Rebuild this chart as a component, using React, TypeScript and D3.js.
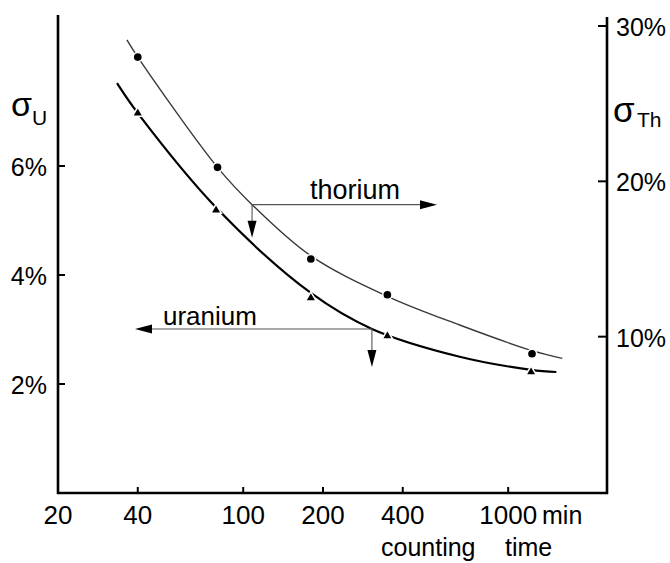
import React from "react";
import * as d3 from "d3";

// ---- data ----
const xTicks = [20, 40, 100, 200, 400, 1000];
const uTicks = [2, 4, 6];
const thTicks = [10, 20, 30];

// measured points (counting time in min, sigma in %)
const thoriumTimes = [40, 80, 180, 350, 1230];
const thoriumValues = [28.0, 20.9, 15.0, 12.7, 8.9];
const uraniumTimes = [40, 79, 180, 350, 1220];
const uraniumValues = [6.97, 5.19, 3.58, 2.88, 2.22];

// drawn (fitted) curves
const thoriumCurveTimes = [36.4, 40, 80, 108, 180, 350, 656, 1230, 1600];
const thoriumCurveValues = [29.1, 28.0, 20.9, 18.5, 15.2, 12.6, 10.75, 9.1, 8.6];
const uraniumCurveTimes = [33.4, 40, 80, 180, 306, 656, 1220, 1520];
const uraniumCurveValues = [7.52, 6.97, 5.21, 3.67, 3.01, 2.5, 2.26, 2.22];

// arrow anchor points
const thoriumArrowTime = 108;
const thoriumArrowValue = 18.5;
const uraniumArrowTime = 306;
const uraniumArrowValue = 3.01;

const W = 670;
const H = 563;
const left = 58;
const right = 607;
const bottom = 493;

const x = d3.scaleLog().domain([20, 2360]).range([left, right]);
const yU = d3.scaleLinear().domain([0, 6]).range([bottom, 166]);
const yTh = d3.scaleLinear().domain([0, 30]).range([492, 26]);

const font = "'Liberation Sans', Arial, sans-serif";

export default function App() {
  const thLine = d3
    .line<number>()
    .x((_, i) => x(thoriumCurveTimes[i]))
    .y((v) => yTh(v))
    .curve(d3.curveCatmullRom.alpha(0.5));
  const uLine = d3
    .line<number>()
    .x((_, i) => x(uraniumCurveTimes[i]))
    .y((v) => yU(v))
    .curve(d3.curveCatmullRom.alpha(0.5));

  const tri = d3.symbol().type(d3.symbolTriangle).size(48)();

  const thx = x(thoriumArrowTime);
  const thy = yTh(thoriumArrowValue);
  const ux = x(uraniumArrowTime);
  const uy = yU(uraniumArrowValue);

  const arrowColor = "#555";

  return (
    <svg
      width={W}
      height={H}
      style={{ position: "absolute", left: 0, top: 0, background: "#fff" }}
      fontFamily={font}
    >
      <rect width={W} height={H} fill="#fff" />
      {/* axes */}
      <line x1={left} y1={15} x2={left} y2={bottom + 1} stroke="#000" strokeWidth={2.6} />
      <line x1={left - 1} y1={bottom} x2={right + 1} y2={bottom} stroke="#000" strokeWidth={2.6} />
      <line x1={right} y1={17} x2={right} y2={bottom + 1} stroke="#000" strokeWidth={2.6} />

      {/* bottom ticks */}
      {xTicks.slice(1).map((t) => (
        <line key={t} x1={x(t)} x2={x(t)} y1={bottom} y2={bottom - 6} stroke="#000" strokeWidth={2} />
      ))}
      {xTicks.map((t) => (
        <text key={t} x={x(t)} y={524} fontSize={26} textAnchor="middle">
          {String(t)}
        </text>
      ))}
      <text x={542} y={524} fontSize={25}>
        {"min"}
      </text>
      <text x={381} y={556} fontSize={25}>
        {"counting"}
      </text>
      <text x={505} y={556} fontSize={25}>
        {"time"}
      </text>

      {/* left ticks */}
      {uTicks.map((v) => (
        <g key={v}>
          <line x1={left} x2={left + 7} y1={yU(v)} y2={yU(v)} stroke="#000" strokeWidth={2} />
          <text x={47} y={yU(v) + 10} fontSize={25} textAnchor="end">
            {`${v}%`}
          </text>
        </g>
      ))}
      {/* right ticks */}
      {thTicks.map((v) => (
        <g key={v}>
          <line x1={right - 9} x2={right} y1={yTh(v)} y2={yTh(v)} stroke="#000" strokeWidth={2} />
          <text x={616} y={yTh(v) + 10} fontSize={25}>
            {`${v}%`}
          </text>
        </g>
      ))}

      {/* axis symbols */}
      <text x={11} y={116} fontSize={34}>
        {"σ"}
      </text>
      <text x={32} y={125} fontSize={21}>
        {"U"}
      </text>
      <text x={613} y={122} fontSize={35}>
        {"σ"}
      </text>
      <text x={637} y={127} fontSize={21}>
        {"Th"}
      </text>

      {/* curves */}
      <path d={thLine(thoriumCurveValues) || ""} fill="none" stroke="#3a3a3a" strokeWidth={1.4} />
      <path d={uLine(uraniumCurveValues) || ""} fill="none" stroke="#000" strokeWidth={2.2} />

      {/* markers */}
      {thoriumTimes.map((t, i) => (
        <circle
          key={t}
          cx={x(t)}
          cy={yTh(thoriumValues[i])}
          r={4.6}
          fill="#000"
          stroke="#fff"
          strokeWidth={1.5}
        />
      ))}
      {uraniumTimes.map((t, i) => (
        <path
          key={t}
          d={tri || ""}
          transform={`translate(${x(t)},${yU(uraniumValues[i])})`}
          fill="#000"
          stroke="#fff"
          strokeWidth={1.5}
        />
      ))}

      {/* thorium arrows */}
      <line x1={thx} y1={thy} x2={437 - 14} y2={thy} stroke={arrowColor} strokeWidth={1.1} />
      <path d={`M437,${thy} L${437 - 17},${thy - 4.5} L${437 - 17},${thy + 4.5} Z`} fill="#000" />
      <line x1={thx} y1={thy} x2={thx} y2={thy + 20} stroke={arrowColor} strokeWidth={1.1} />
      <path d={`M${thx},${thy + 33} L${thx - 4.5},${thy + 16} L${thx + 4.5},${thy + 16} Z`} fill="#000" />
      <text x={310} y={199} fontSize={27}>
        {"thorium"}
      </text>

      {/* uranium arrows */}
      <line x1={ux} y1={uy} x2={135 + 14} y2={uy} stroke={arrowColor} strokeWidth={1.1} />
      <path d={`M135,${uy} L${135 + 17},${uy - 4.5} L${135 + 17},${uy + 4.5} Z`} fill="#000" />
      <line x1={ux} y1={uy} x2={ux} y2={uy + 24} stroke={arrowColor} strokeWidth={1.1} />
      <path d={`M${ux},${uy + 38} L${ux - 4.5},${uy + 21} L${ux + 4.5},${uy + 21} Z`} fill="#000" />
      <text x={163} y={325} fontSize={26}>
        {"uranium"}
      </text>
    </svg>
  );
}
